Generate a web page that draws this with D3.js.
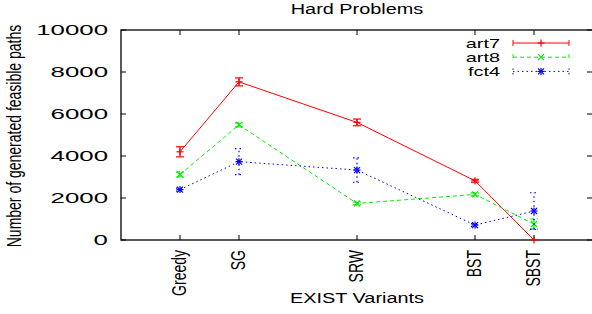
<!DOCTYPE html>
<html>
<head>
<meta charset="utf-8">
<script src="https://cdn.jsdelivr.net/npm/d3@7"></script>
<style>
  body { margin: 0; background: #fff; }
  text { font-family: "Liberation Sans", Arial, sans-serif; fill: #000; }
</style>
</head>
<body>
<div class="chart"></div>
<script>
// data
var variants = ["Greedy", "SG", "SRW", "BST", "SBST"];
var variantX = [1, 2, 4, 6, 7];
var yTicks = [0, 2000, 4000, 6000, 8000, 10000];

var art7 = [4200, 7530, 5600, 2820, 0];
var art7Err = [240, 190, 160, 70, 0];
var art8 = [3120, 5480, 1740, 2170, 760];
var art8Err = [120, 100, 70, 70, 240];
var fct4 = [2400, 3730, 3330, 710, 1380];
var fct4Err = [70, 620, 580, 70, 870];

var seriesNames = ["art7", "art8", "fct4"];

var width = 592, height = 314;
var margin = { left: 121, right: -1, top: 30, bottom: 74 };
var sx = 1.42; // the original was stretched sideways

var svg = d3.select(".chart")
  .append("svg")
    .attr("width", width)
    .attr("height", height);

var x = d3.scaleLinear()
    .domain([0, 8])
    .range([margin.left, width - margin.right]);

var y = d3.scaleLinear()
    .domain([0, 10000])
    .range([height - margin.bottom, margin.top]);

// stretched text helper
function label(g, str, tx, ty, anchor, rot, size, stretch) {
  var t = g.append("g")
      .attr("transform", "translate(" + tx + "," + ty + ") scale(" + (stretch || sx) + ",1)" + (rot ? " rotate(-90)" : ""))
    .append("text")
      .attr("text-anchor", anchor)
      .style("font-size", (size || 14) + "px")
      .text(str);
  return t;
}

// frame
svg.append("rect")
    .attr("x", x(0)).attr("y", y(10000))
    .attr("width", x(8) - x(0)).attr("height", y(0) - y(10000))
    .attr("fill", "none")
    .attr("stroke", "#000")
    .attr("stroke-width", 1.3);

// y ticks, both sides, inward
yTicks.forEach(function(d) {
  svg.append("line")
      .attr("x1", x(0)).attr("x2", x(0) + 5)
      .attr("y1", y(d)).attr("y2", y(d))
      .attr("stroke", "#000");
  svg.append("line")
      .attr("x1", x(8) - 6).attr("x2", x(8))
      .attr("y1", y(d)).attr("y2", y(d))
      .attr("stroke", "#000");
  label(svg, d, x(0) - 13, y(d) + 5, "end", false, 14, sx * 1.3);
});

// x ticks, top and bottom
variants.forEach(function(v, i) {
  var px = x(variantX[i]);
  svg.append("line")
      .attr("x1", px).attr("x2", px)
      .attr("y1", y(0)).attr("y2", y(0) - 5)
      .attr("stroke", "#000");
  svg.append("line")
      .attr("x1", px).attr("x2", px)
      .attr("y1", y(10000)).attr("y2", y(10000) + 5)
      .attr("stroke", "#000");
  label(svg, v, px + 5.5, y(0) + 10, "end", true);
});

// titles
label(svg, "Hard Problems", 357, 14, "middle", false);
label(svg, "EXIST Variants", 357, 303, "middle", false);
label(svg, "Number of generated feasible paths", 21, 136, "middle", true);

// series
var styles = [
  { color: "#ff0000", dash: null, marker: "plus" },
  { color: "#00ee00", dash: "4,3", marker: "cross" },
  { color: "#0000ff", dash: "1.5,3", marker: "star" }
];
var values = [art7, art8, fct4];
var errors = [art7Err, art8Err, fct4Err];

function marker(g, px, py, kind, color) {
  var s = 3.5;
  var segs = [];
  if (kind == "plus" || kind == "star") {
    segs.push([px - s, py, px + s, py], [px, py - s, px, py + s]);
  }
  if (kind == "cross" || kind == "star") {
    var c = 3;
    segs.push([px - c, py - c, px + c, py + c], [px - c, py + c, px + c, py - c]);
  }
  segs.forEach(function(p) {
    g.append("line")
        .attr("x1", p[0]).attr("y1", p[1]).attr("x2", p[2]).attr("y2", p[3])
        .attr("stroke", color).attr("stroke-width", 1.2);
  });
}

var line = d3.line()
    .x(function(d, i) { return x(variantX[i]); })
    .y(function(d) { return y(d); });

values.forEach(function(vals, k) {
  var st = styles[k];
  var g = svg.append("g");
  g.append("path")
      .attr("d", line(vals))
      .attr("fill", "none")
      .attr("stroke", st.color)
      .attr("stroke-width", 1)
      .attr("stroke-dasharray", st.dash);

  vals.forEach(function(v, i) {
    var px = x(variantX[i]);
    var e = errors[k][i];
    if (e > 0) {
      [[px, y(v - e), px, y(v + e)],
       [px - 4, y(v - e), px + 4, y(v - e)],
       [px - 4, y(v + e), px + 4, y(v + e)]].forEach(function(p) {
        g.append("line")
            .attr("x1", p[0]).attr("y1", p[1]).attr("x2", p[2]).attr("y2", p[3])
            .attr("stroke", st.color)
            .attr("stroke-width", 1.2)
            .attr("stroke-dasharray", st.dash);
      });
    }
    marker(g, px, y(v), st.marker, st.color);
  });
});

// legend
seriesNames.forEach(function(n, k) {
  var st = styles[k];
  var ly = 43 + k * 14.2;
  label(svg, n, 500, ly + 4.5, "end", false, 12.5, sx * 14 / 12.5);
  svg.append("line")
      .attr("x1", 513).attr("x2", 569)
      .attr("y1", ly).attr("y2", ly)
      .attr("stroke", st.color)
      .attr("stroke-dasharray", st.dash);
  [513, 569].forEach(function(ex) {
    svg.append("line")
        .attr("x1", ex).attr("x2", ex)
        .attr("y1", ly - 3).attr("y2", ly + 3)
        .attr("stroke", st.color)
        .attr("stroke-dasharray", st.dash);
  });
  marker(svg, 541, ly, st.marker, st.color);
});
</script>
</body>
</html>
